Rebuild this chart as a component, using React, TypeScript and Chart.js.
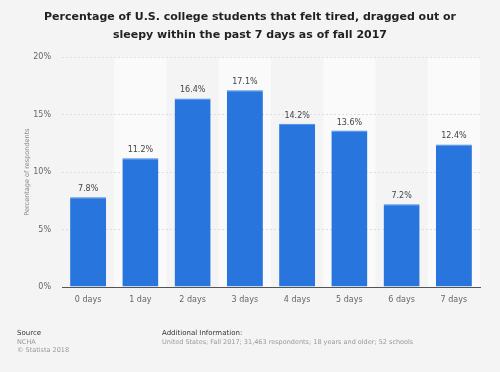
import React, { useEffect, useRef } from "react";
import { Chart, registerables } from "chart.js";

Chart.register(...registerables);

const categories = ["0 days", "1 day", "2 days", "3 days", "4 days", "5 days", "6 days", "7 days"];
const values = [7.8, 11.2, 16.4, 17.1, 14.2, 13.6, 7.2, 12.4];
const yTicks = [0, 5, 10, 15, 20];
const titleLines = [
  "Percentage of U.S. college students that felt tired, dragged out or",
  "sleepy within the past 7 days as of fall 2017",
];
const yAxisTitle = "Percentage of respondents";
const sourceLines = ["NCHA", "© Statista 2018"];
const additionalInfo = "United States; Fall 2017; 31,463 respondents; 18 years and older; 52 schools";

const FONT = "'DejaVu Sans', sans-serif";

const decorPlugin = {
  id: "decor",
  beforeDraw(chart: any) {
    const { ctx, chartArea, scales } = chart;
    ctx.save();
    ctx.fillStyle = "#f4f4f4";
    ctx.fillRect(0, 0, chart.width, chart.height);
    const x = scales.x;
    const step = (chartArea.right - chartArea.left) / categories.length;
    ctx.fillStyle = "#fafafa";
    categories.forEach((_, i) => {
      if (i % 2 === 1) {
        const c = x.getPixelForValue(i);
        ctx.fillRect(c - step / 2, chartArea.top, step, chartArea.bottom - chartArea.top);
      }
    });
    // title
    ctx.fillStyle = "#222";
    ctx.font = `bold 11px ${FONT}`;
    ctx.textAlign = "center";
    ctx.textBaseline = "middle";
    ctx.fillText(titleLines[0], 250, 17);
    ctx.fillText(titleLines[1], 250, 35);
    // y axis title
    ctx.save();
    ctx.translate(27, (chartArea.top + chartArea.bottom) / 2);
    ctx.rotate(-Math.PI / 2);
    ctx.fillStyle = "#888";
    ctx.font = `6.5px ${FONT}`;
    ctx.fillText(yAxisTitle, 0, 0);
    ctx.restore();
    // footer
    ctx.textAlign = "left";
    ctx.fillStyle = "#333";
    ctx.font = `7px ${FONT}`;
    ctx.fillText("Source", 17, 333);
    ctx.fillText("Additional Information:", 162, 333);
    ctx.fillStyle = "#999";
    ctx.font = `6.5px ${FONT}`;
    ctx.fillText(sourceLines[0], 17, 342);
    ctx.fillText(sourceLines[1], 17, 350);
    ctx.fillText(additionalInfo, 162, 342);
    ctx.restore();
  },
  afterDatasetsDraw(chart: any) {
    const { ctx } = chart;
    const meta = chart.getDatasetMeta(0);
    ctx.save();
    ctx.fillStyle = "#444";
    ctx.font = `8px ${FONT}`;
    ctx.textAlign = "center";
    ctx.textBaseline = "bottom";
    meta.data.forEach((bar: any, i: number) => {
      ctx.fillText(values[i].toFixed(1) + "%", bar.x, bar.y - 4);
    });
    ctx.restore();
  },
};

export default function App() {
  const ref = useRef<HTMLCanvasElement>(null);
  useEffect(() => {
    const chart = new Chart(ref.current!, {
      type: "bar",
      data: {
        labels: categories,
        datasets: [
          {
            data: values,
            backgroundColor: "#2876dd",
            borderColor: "#3f86e4",
            borderWidth: { top: 1, left: 0, right: 0, bottom: 0 },
            barPercentage: 0.69,
            categoryPercentage: 1,
          },
        ],
      },
      options: {
        animation: false,
        responsive: false,
        layout: { padding: { left: 0, top: 57, right: 20, bottom: 0 } },
        plugins: { legend: { display: false }, tooltip: { enabled: false }, title: { display: false } },
        scales: {
          x: {
            grid: { display: false, drawTicks: false },
            border: { display: true, color: "#555", width: 1 },
            ticks: { color: "#666", font: { family: FONT, size: 8 }, padding: 8 },
            afterFit: (s: any) => { s.height = 85; },
          },
          y: {
            min: 0,
            max: 20,
            afterBuildTicks: (s: any) => { s.ticks = yTicks.map((v) => ({ value: v })); },
            grid: { color: "#dedede", drawTicks: false, tickLength: 0 },
            border: { display: false, dash: [2, 2] },
            ticks: {
              color: "#666",
              font: { family: FONT, size: 8 },
              padding: 11,
              callback: (v: any) => v + "%",
            },
            afterFit: (s: any) => { s.width = 62; },
          },
        },
      },
      plugins: [decorPlugin],
    });
    return () => chart.destroy();
  }, []);
  return (
    <div style={{ position: "absolute", left: 0, top: 0, width: 500, height: 372, background: "#f4f4f4" }}>
      <canvas ref={ref} width={500} height={372} style={{ width: 500, height: 372 }} />
    </div>
  );
}
